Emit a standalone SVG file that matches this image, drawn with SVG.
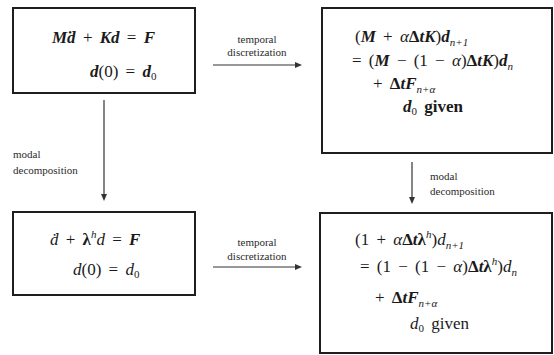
<svg xmlns="http://www.w3.org/2000/svg" width="554" height="355" viewBox="0 0 554 355" font-family="Liberation Serif">
<style>
.box{fill:#fff;stroke:#1e1e1e;stroke-width:2}
.eq{font-size:17px;fill:#1a1a1a}
.bi{font-weight:bold;font-style:italic}
.b{font-weight:bold}
.i{font-style:italic}
.sub{font-size:11px}
.lbl{font-size:11px;fill:#2a2a2a}
.conn{stroke:#333;stroke-width:1.2;fill:none}
.head{fill:#333}
</style>
<rect width="554" height="355" fill="#fff"/>

<g id="connectors">
<line class="conn" x1="213" y1="65" x2="296" y2="65"/>
<polygon class="head" points="302,65 295,62 295,68"/>
<text class="lbl" font-family="Liberation Serif" x="257" y="43" text-anchor="middle">temporal</text>
<text class="lbl" font-family="Liberation Serif" x="257" y="56" text-anchor="middle">discretization</text>
<line class="conn" x1="213" y1="267" x2="296" y2="267"/>
<polygon class="head" points="302,267 295,264 295,270"/>
<text class="lbl" font-family="Liberation Serif" x="257" y="246" text-anchor="middle">temporal</text>
<text class="lbl" font-family="Liberation Serif" x="257" y="260" text-anchor="middle">discretization</text>
<line class="conn" x1="104" y1="100" x2="104" y2="195"/>
<polygon class="head" points="104,201 101,194 107,194"/>
<text class="lbl" font-family="Liberation Serif" x="13" y="158">modal</text>
<text class="lbl" font-family="Liberation Serif" x="13" y="174">decomposition</text>
<line class="conn" x1="412" y1="162" x2="412" y2="198"/>
<polygon class="head" points="412,204 409,197 415,197"/>
<text class="lbl" font-family="Liberation Serif" x="430" y="180">modal</text>
<text class="lbl" font-family="Liberation Serif" x="430" y="195">decomposition</text>
</g>

<g id="node-continuous">
<rect class="box" x="13" y="8" width="182" height="85"/>
<text class="eq" font-family="Liberation Serif" word-spacing="3" x="52" y="43"><tspan class="bi">Mḋ</tspan> + <tspan class="bi">Kd</tspan> = <tspan class="bi">F</tspan></text>
<text class="eq" font-family="Liberation Serif" word-spacing="3" x="90" y="77"><tspan class="bi">d</tspan>(0) = <tspan class="bi">d</tspan><tspan class="sub" dy="3">0</tspan></text>
</g>

<g id="node-discrete">
<rect class="box" x="322" y="8" width="230" height="145"/>
<text class="eq" font-family="Liberation Serif" word-spacing="3" x="355" y="42">(<tspan class="bi">M</tspan> + <tspan class="i">α</tspan><tspan class="b">Δ</tspan><tspan class="bi">tK</tspan>)<tspan class="bi">d</tspan><tspan class="sub i" dy="4">n+1</tspan></text>
<text class="eq" font-family="Liberation Serif" word-spacing="3" x="352" y="66">= (<tspan class="bi">M</tspan> − (1 − <tspan class="i">α</tspan>)<tspan class="b">Δ</tspan><tspan class="bi">tK</tspan>)<tspan class="bi">d</tspan><tspan class="sub i" dy="4">n</tspan></text>
<text class="eq" font-family="Liberation Serif" word-spacing="3" x="373" y="89">+ <tspan class="b">Δ</tspan><tspan class="bi">tF</tspan><tspan class="sub i" dy="4">n+α</tspan></text>
<text class="eq" font-family="Liberation Serif" word-spacing="3" x="403" y="112"><tspan class="bi">d</tspan><tspan class="sub" dy="3">0</tspan><tspan class="b" dy="-3"> given</tspan></text>
</g>

<g id="node-modal">
<rect class="box" x="13" y="212" width="182" height="83"/>
<text class="eq" font-family="Liberation Serif" word-spacing="3" x="50" y="245"><tspan class="i">ḋ</tspan> + <tspan class="b">λ</tspan><tspan class="sub i" dy="-7">h</tspan><tspan class="i" dy="7">d</tspan> = <tspan class="bi">F</tspan></text>
<text class="eq" font-family="Liberation Serif" word-spacing="3" x="73" y="275"><tspan class="i">d</tspan>(0) = <tspan class="i">d</tspan><tspan class="sub" dy="3">0</tspan></text>
</g>

<g id="node-modal-discrete">
<rect class="box" x="320" y="213" width="232" height="140"/>
<text class="eq" font-family="Liberation Serif" word-spacing="3" x="355" y="245">(1 + <tspan class="i">α</tspan><tspan class="b">Δ</tspan><tspan class="bi">t</tspan><tspan class="b">λ</tspan><tspan class="sub i" dy="-7">h</tspan><tspan dy="7">)</tspan><tspan class="i">d</tspan><tspan class="sub i" dy="4">n+1</tspan></text>
<text class="eq" font-family="Liberation Serif" word-spacing="3" x="360" y="272">= (1 − (1 − <tspan class="i">α</tspan>)<tspan class="b">Δ</tspan><tspan class="bi">t</tspan><tspan class="b">λ</tspan><tspan class="sub i" dy="-7">h</tspan><tspan dy="7">)</tspan><tspan class="i">d</tspan><tspan class="sub i" dy="4">n</tspan></text>
<text class="eq" font-family="Liberation Serif" word-spacing="3" x="375" y="303">+ <tspan class="b">Δ</tspan><tspan class="bi">tF</tspan><tspan class="sub i" dy="4">n+α</tspan></text>
<text class="eq" font-family="Liberation Serif" word-spacing="3" x="410" y="329"><tspan class="i">d</tspan><tspan class="sub" dy="3">0</tspan><tspan dy="-3"> given</tspan></text>
</g>
</svg>
